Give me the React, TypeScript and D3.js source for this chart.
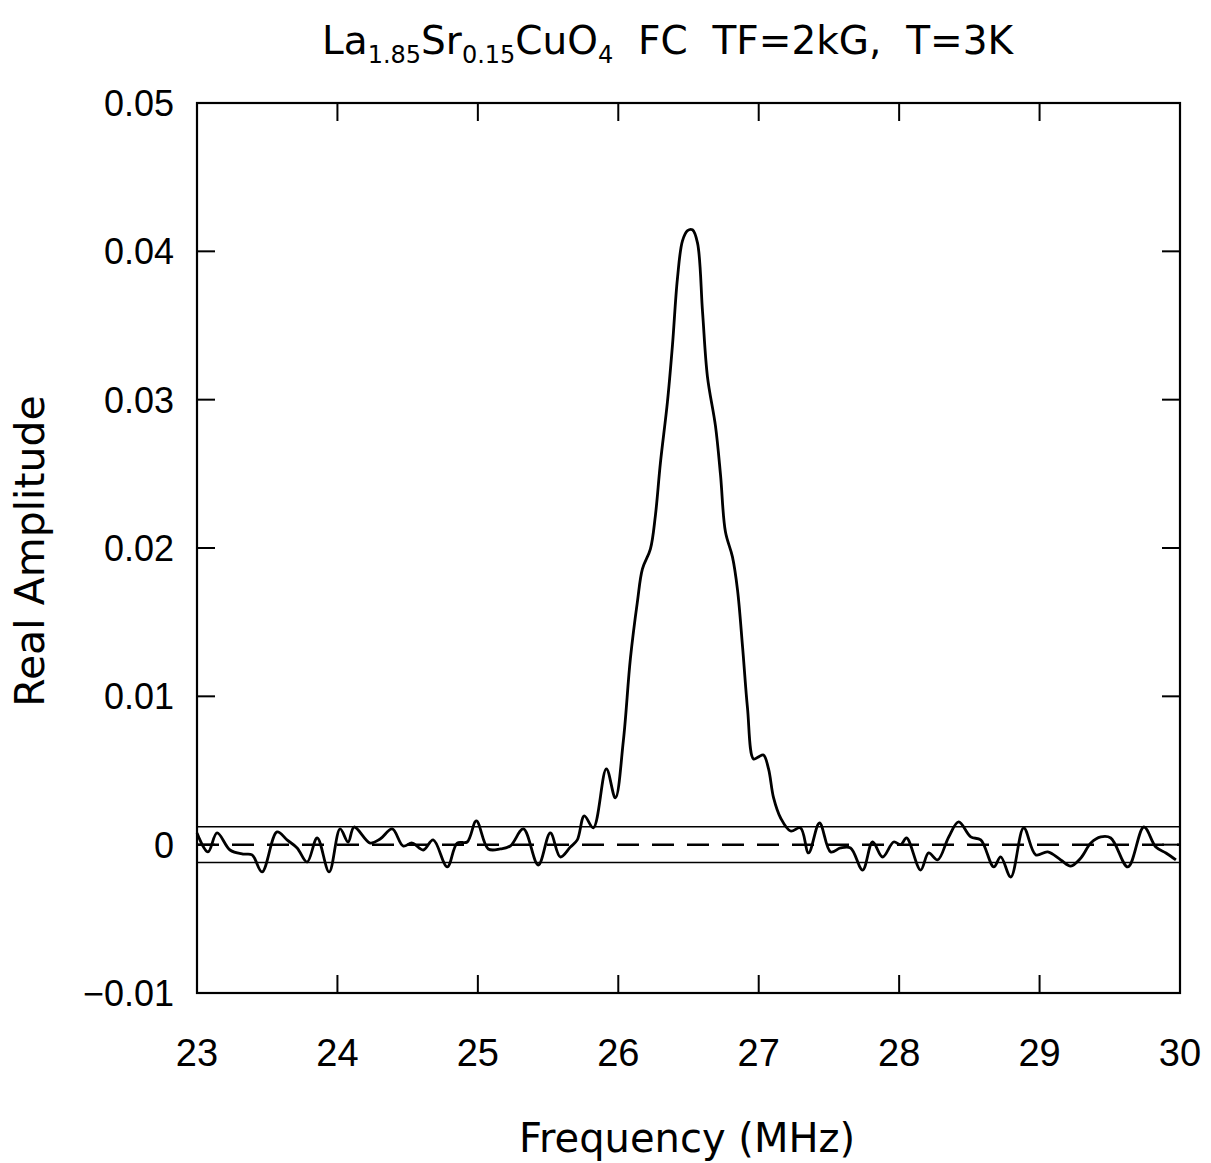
import React from "react";
import * as d3 from "d3";

const freq: number[] = [
  23.0, 23.078, 23.143, 23.235, 23.328, 23.392, 23.463, 23.57, 23.641, 23.713,
  23.784, 23.856, 23.941, 24.019, 24.076, 24.119, 24.233, 24.304, 24.39, 24.468,
  24.532, 24.611, 24.682, 24.782, 24.853, 24.924, 24.989, 25.074, 25.16, 25.231,
  25.324, 25.43, 25.516, 25.587, 25.659, 25.708, 25.758, 25.822, 25.915, 25.979,
  26.036, 26.086, 26.136, 26.172, 26.229, 26.264, 26.3, 26.35, 26.386, 26.421,
  26.457, 26.493, 26.528, 26.564, 26.6, 26.635, 26.692, 26.728, 26.763, 26.813,
  26.849, 26.885, 26.92, 26.963, 26.999, 27.034, 27.07, 27.106, 27.156, 27.227,
  27.298, 27.355, 27.433, 27.512, 27.583, 27.654, 27.74, 27.811, 27.882, 27.961,
  28.011, 28.053, 28.153, 28.21, 28.274, 28.353, 28.424, 28.51, 28.581, 28.674,
  28.723, 28.795, 28.887, 28.973, 29.058, 29.151, 29.222, 29.294, 29.365, 29.436,
  29.507, 29.629, 29.743, 29.828, 29.9, 29.971,
];

const amplitude: number[] = [
  0.00079, -0.00049, 0.00079, -0.00036, -0.00063, -0.00069, -0.00184, 0.00086, 0.00032, -0.00022,
  -0.00117, 0.00045, -0.00184, 0.00106, 0.00018, 0.00119, 0.00011, 0.00038, 0.00106, -0.00009,
  0.00011, -0.00036, 0.00032, -0.0015, 0.00011, 0.00018, 0.0016, -0.00029, -0.00029, -0.00009,
  0.00106, -0.00137, 0.00079, -0.00083, -0.00016, 0.00032, 0.00194, 0.00113, 0.00511, 0.00315,
  0.007, 0.01252, 0.01637, 0.01859, 0.01994, 0.02217, 0.02574, 0.02985, 0.0337, 0.03815,
  0.04071, 0.0414, 0.04145, 0.04057, 0.03592, 0.03154, 0.02823, 0.02493, 0.02109, 0.0194,
  0.01718, 0.01333, 0.00922, 0.00578, 0.00592, 0.00605, 0.00511, 0.00315, 0.0018, 0.00092,
  0.00113, -0.00056, 0.00146, -0.00049, -0.00022, -0.00022, -0.00171, 0.00018, -0.00083, 0.00018,
  0.0, 0.00045, -0.00171, -0.00056, -0.00103, 0.00052, 0.00153, 0.00052, 0.00032, -0.0015,
  -0.00083, -0.00218, 0.00113, -0.00069, -0.00049, -0.00103, -0.00144, -0.0009, 0.00011, 0.00052,
  0.00045, -0.0015, 0.00119, -0.00016, -0.00056, -0.00103,
];

const xTicks: number[] = [23, 24, 25, 26, 27, 28, 29, 30];
const yTicks: number[] = [-0.01, 0, 0.01, 0.02, 0.03, 0.04, 0.05];
const yTickLabels: string[] = ["\u22120.01", "0", "0.01", "0.02", "0.03", "0.04", "0.05"];
const noiseBand: number[] = [0.0012, -0.0012];
const baseline = 0;

export default function App() {
  const W = 1211;
  const H = 1163;
  const left = 197;
  const right = 1180;
  const top = 103;
  const bottom = 993;

  const x = d3.scaleLinear().domain([23, 30]).range([left, right]);
  const y = d3.scaleLinear().domain([-0.01, 0.05]).range([bottom, top]);

  const pts: [number, number][] = freq.map((f, i) => [f, amplitude[i]]);
  const line = d3
    .line<[number, number]>()
    .x((d) => x(d[0]))
    .y((d) => y(d[1]))
    .curve(d3.curveCatmullRom.alpha(0.5));

  const tickLen = 18;
  const sans = "'Liberation Sans', Arial, sans-serif";
  const dv = "'DejaVu Sans', sans-serif";

  return (
    <svg
      width={W}
      height={H}
      style={{ position: "absolute", left: 0, top: 0, background: "#fff" }}
    >
      <rect x={0} y={0} width={W} height={H} fill="#fff" />
      {/* title */}
      <text x={322} y={54} fontFamily={dv} fontSize={39} fill="#000">
        <tspan>La</tspan>
        <tspan fontSize={24} dy={9}>1.85</tspan>
        <tspan dy={-9}>Sr</tspan>
        <tspan fontSize={24} dy={9}>0.15</tspan>
        <tspan dy={-9}>CuO</tspan>
        <tspan fontSize={24} dy={9}>4</tspan>
        <tspan dy={-9} xmlSpace="preserve">{"  FC  TF=2kG,  T=3K"}</tspan>
      </text>

      {/* noise band lines */}
      {noiseBand.map((v, i) => (
        <line key={"nb" + i} x1={left} x2={right} y1={y(v)} y2={y(v)} stroke="#000" strokeWidth={1.5} />
      ))}
      <line
        x1={left}
        x2={right}
        y1={y(baseline)}
        y2={y(baseline)}
        stroke="#000"
        strokeWidth={2.5}
        strokeDasharray="22,13"
      />

      {/* data */}
      <path d={line(pts) || ""} fill="none" stroke="#000" strokeWidth={2.8} strokeLinejoin="round" />

      {/* frame */}
      <rect x={left} y={top} width={right - left} height={bottom - top} fill="none" stroke="#000" strokeWidth={2.2} />

      {/* x ticks */}
      {xTicks.map((t) => (
        <g key={"xt" + t}>
          <line x1={x(t)} x2={x(t)} y1={bottom} y2={bottom - tickLen} stroke="#000" strokeWidth={2} />
          <line x1={x(t)} x2={x(t)} y1={top} y2={top + tickLen} stroke="#000" strokeWidth={2} />
          <text x={x(t)} y={1066} textAnchor="middle" fontFamily={sans} fontSize={38} fill="#000">
            {t}
          </text>
        </g>
      ))}
      {/* y ticks */}
      {yTicks.map((t, i) => (
        <g key={"yt" + i}>
          <line x1={left} x2={left + tickLen} y1={y(t)} y2={y(t)} stroke="#000" strokeWidth={2} />
          <line x1={right} x2={right - tickLen} y1={y(t)} y2={y(t)} stroke="#000" strokeWidth={2} />
          <text
            x={174}
            y={y(t) + 13}
            textAnchor="end"
            fontFamily={sans}
            fontSize={36}
            fill="#000"
          >
            {yTickLabels[i]}
          </text>
        </g>
      ))}

      {/* axis titles */}
      <text x={687} y={1152} textAnchor="middle" fontFamily={dv} fontSize={40} fill="#000">
        Frequency (MHz)
      </text>
      <text
        transform={`translate(44, ${551}) rotate(-90)`}
        textAnchor="middle"
        fontFamily={dv}
        fontSize={41}
        fill="#000"
      >
        Real Amplitude
      </text>
    </svg>
  );
}
